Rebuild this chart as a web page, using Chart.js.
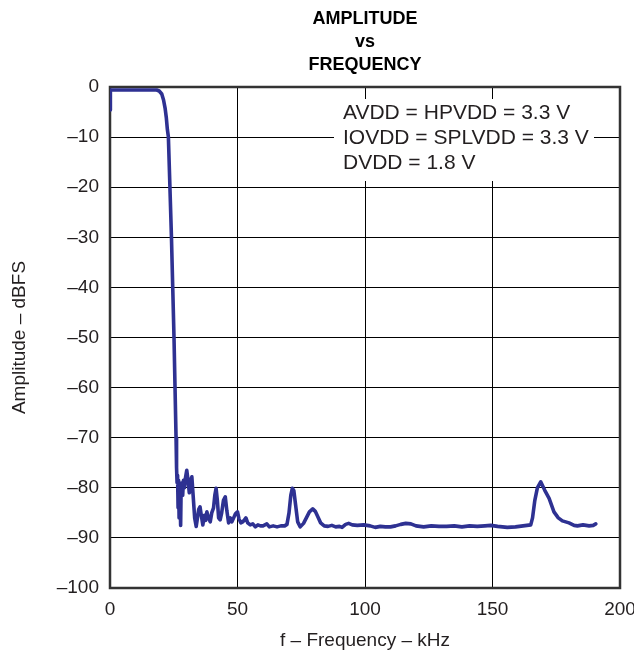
<!DOCTYPE html>
<html>
<head>
<meta charset="utf-8">
<script src="https://cdn.jsdelivr.net/npm/chart.js@4/dist/chart.umd.min.js"></script>
<style>
    body { margin: 0; background: #fff; }
    #wrap { width: 634px; height: 657px; }
</style>
</head>
<body>
<div id="wrap"><canvas id="ampChart"></canvas></div>
<script>
const ctx = document.getElementById("ampChart").getContext("2d");

// Values (kHz, dBFS)
const freq = [
    0, 0.15, 2, 6, 10, 14, 17, 18.3, 19.3, 20.3, 21, 21.6, 22.1, 22.5, 22.9,
    23.5, 24.1, 24.6, 25.1, 25.5, 25.9, 26.1,
    26.3, 26.5, 26.7, 26.9, 27.1, 27.3, 27.5, 27.7, 27.9, 28.2, 28.5, 28.8, 29.2, 29.6,
    30.1, 30.6, 31.1, 31.6, 32.1, 32.6, 33.2, 33.8, 34.3, 34.8, 35.3, 35.8, 36.4, 37,
    37.5, 38, 38.6, 39.3, 39.9, 40.6, 41.1, 41.6, 42.1, 42.6, 43.2, 43.8, 44.5, 45.2,
    45.8, 46.5, 47.2, 47.8, 48.5, 49.2, 50, 50.6, 51.3, 52, 52.6, 53.3, 54, 55, 56,
    57, 58, 59, 60, 61.5, 62.5, 64, 65.5, 67, 68.5, 69.4, 70.2, 70.9, 71.5, 72.1,
    72.8, 73.6, 74.6, 75.9, 77, 78.2, 79.5, 80.5, 81.5, 82.6, 84, 85.5, 87, 88.5,
    90, 91, 92.4, 93.6, 95, 97, 99.5, 102, 104, 106, 108, 110, 112, 114, 116, 118,
    120, 123, 126, 129, 132, 135, 138, 141, 144, 147, 149.3, 152, 155.8, 159, 162,
    165, 165.7, 166.6, 167.6, 168.9, 170.5, 172.2, 174.1, 175.8, 177.4, 180, 182,
    183.3, 185.5, 187.9, 189.5, 190.5
];
const amp = [
    -4.6, -0.6, -0.6, -0.6, -0.6, -0.6, -0.6, -0.6, -0.8, -1.4, -2.6, -4.2, -6.2, -8.5, -10,
    -20, -30, -40, -50, -60, -70, -76,
    -79, -77.5, -84, -78.5, -86, -79, -82, -87.5, -80, -79, -81.5, -78.5, -80, -78,
    -76.5, -78.5, -81, -78.5, -77.8, -81.5, -86, -87.7, -86, -84.3, -83.8, -85.5, -87.4, -85.5,
    -86.5, -84.8, -86, -86.8, -85, -84, -81.5, -80.1, -82.5, -86, -86.4, -85, -82.5, -81.8,
    -84.5, -87, -86, -86.8, -86, -85.2, -84.8, -86.2, -87, -86.8, -86.5, -86, -87, -87.4, -87.2,
    -87.8, -87.4, -87.6, -87.6, -87.2, -87.8, -87.6, -87.8, -87.6, -87.6, -87.3, -85, -81.5, -80.1, -80.6,
    -83.5, -86.8, -87.8, -87.1, -86, -84.8, -84.2, -84.7, -85.8, -87, -87.6, -87.7, -87.5, -87.8,
    -87.7, -87.9, -87.3, -87.1, -87.4, -87.5, -87.4, -87.6, -87.9, -87.7, -87.8, -87.8, -87.6, -87.3, -87.1, -87.2,
    -87.6, -87.8, -87.6, -87.7, -87.7, -87.6, -87.8, -87.6, -87.7, -87.6, -87.5, -87.7, -87.9, -87.8, -87.6,
    -87.4, -86, -82.5, -80, -78.8, -80.5, -82.1, -84.8, -86, -86.6, -87, -87.5,
    -87.6, -87.4, -87.6, -87.5, -87.2
];

const xTicks = [0, 50, 100, 150, 200];
const yTicks = [0, -10, -20, -30, -40, -50, -60, -70, -80, -90, -100];

const titleLines = ["AMPLITUDE", "vs", "FREQUENCY"];
const noteLines = ["AVDD = HPVDD = 3.3 V", "IOVDD = SPLVDD = 3.3 V", "DVDD = 1.8 V"];

const FONT = "Arial, 'Liberation Sans', sans-serif";

const dash = (v) => (v < 0 ? "\u2013" + Math.abs(v) : String(v));

// title, note box and plot frame
const decor = {
    id: "decor",
    beforeDatasetsDraw(chart) {
        const c = chart.ctx;
        const a = chart.chartArea;
        c.save();
        // note box covers grid
        c.fillStyle = "#fff";
        c.fillRect(334, 99, 260, 82);
        c.fillStyle = "#231f20";
        c.font = "21px " + FONT;
        c.textBaseline = "middle";
        c.textAlign = "left";
        noteLines.forEach((t, i) => c.fillText(t, 343, 113 + i * 25));
        // frame
        c.strokeStyle = "#333";
        c.lineWidth = 2.5;
        c.strokeRect(a.left, a.top, a.right - a.left, a.bottom - a.top);
        c.restore();
    },
    afterDraw(chart) {
        const c = chart.ctx;
        const a = chart.chartArea;
        c.save();
        c.fillStyle = "#000";
        c.font = "bold 18px " + FONT;
        c.textAlign = "center";
        c.textBaseline = "alphabetic";
        const cx = (a.left + a.right) / 2;
        c.fillText(titleLines[0], cx, 24);
        c.fillText(titleLines[1], cx, 47);
        c.fillText(titleLines[2], cx, 70);
        c.restore();
    },
};

const chart = new Chart(ctx, {
    type: "scatter",
    data: {
        datasets: [
            {
                data: freq.map((f, i) => ({ x: f, y: amp[i] })),
                showLine: true,
                borderColor: "#2e3192",
                borderWidth: 3.6,
                borderJoinStyle: "round",
                borderCapStyle: "round",
                pointRadius: 0,
                tension: 0,
                fill: false,
            },
        ],
    },
    options: {
        responsive: true,
        maintainAspectRatio: false,
        animation: false,
        layout: { padding: { top: 87, right: 14, left: 0, bottom: 0 } },
        plugins: {
            legend: { display: false },
            tooltip: { enabled: false },
        },
        scales: {
            x: {
                type: "linear",
                min: 0,
                max: 200,
                afterBuildTicks: (s) => { s.ticks = xTicks.map((v) => ({ value: v })); },
                afterFit: (s) => { s.height = 69; s.paddingLeft = 0; s.paddingRight = 0; },
                ticks: {
                    color: "#231f20",
                    font: { family: FONT, size: 19 },
                    padding: 10,
                    maxRotation: 0,
                },
                grid: { color: "#000", lineWidth: 1, drawTicks: false },
                border: { display: false },
                title: {
                    display: true,
                    text: "f \u2013 Frequency \u2013 kHz",
                    color: "#231f20",
                    font: { family: FONT, size: 19 },
                    padding: { top: 0, bottom: 5 },
                },
            },
            y: {
                min: -100,
                max: 0,
                afterBuildTicks: (s) => { s.ticks = yTicks.map((v) => ({ value: v })); },
                afterFit: (s) => { s.width = 110; s.paddingTop = 0; s.paddingBottom = 0; },
                ticks: {
                    color: "#231f20",
                    font: { family: FONT, size: 19 },
                    padding: 11,
                    callback: (v) => dash(v),
                },
                grid: { color: "#000", lineWidth: 1, drawTicks: false },
                border: { display: false },
                title: {
                    display: true,
                    text: "Amplitude \u2013 dBFS",
                    color: "#231f20",
                    font: { family: FONT, size: 19 },
                    padding: { top: 8, bottom: 0 },
                },
            },
        },
    },
    plugins: [decor],
});
</script>
</body>
</html>
